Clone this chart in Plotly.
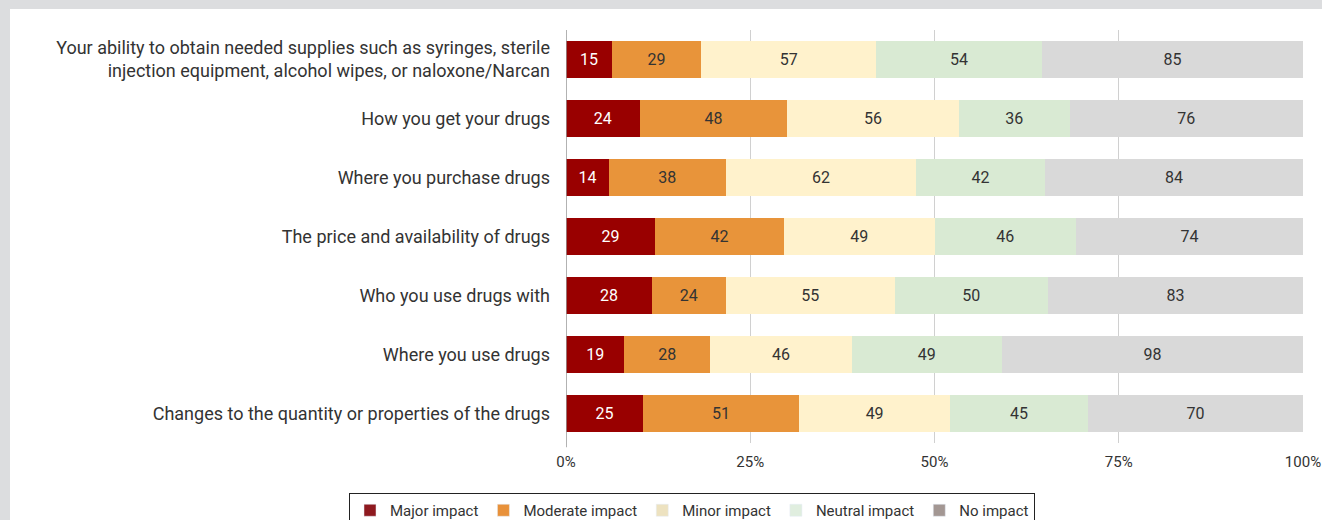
import plotly.graph_objects as go

categories = [
    "Your ability to obtain needed supplies such as syringes, sterile<br>injection equipment, alcohol wipes, or naloxone/Narcan",
    "How you get your drugs",
    "Where you purchase drugs",
    "The price and availability of drugs",
    "Who you use drugs with",
    "Where you use drugs",
    "Changes to the quantity or properties of the drugs",
]
series_names = ["Major impact", "Moderate impact", "Minor impact", "Neutral impact", "No impact"]
major = [15, 24, 14, 29, 28, 19, 25]
moderate = [29, 48, 38, 42, 24, 28, 51]
minor = [57, 56, 62, 49, 55, 46, 49]
neutral = [54, 36, 42, 46, 50, 49, 45]
no_impact = [85, 76, 84, 74, 83, 98, 70]
tick_vals = [0, 25, 50, 75, 100]
tick_text = ["0%", "25%", "50%", "75%", "100%"]

series_values = [major, moderate, minor, neutral, no_impact]
bar_colors = ["#990000", "#E8943A", "#FFF2CC", "#D9EAD3", "#D9D9D9"]
legend_colors = ["#8E1A1F", "#E8913A", "#EDE2C0", "#E0EEDF", "#A39793"]
text_colors = ["white", "#333333", "#333333", "#333333", "#333333"]

FONT = "Roboto"
fig = go.Figure()
for name, vals, col, tc in zip(series_names, series_values, bar_colors, text_colors):
    fig.add_trace(go.Bar(
        y=categories, x=vals, orientation="h", name=name,
        marker=dict(color=col, line=dict(width=0)),
        text=[str(v) for v in vals], textposition="inside", insidetextanchor="middle",
        textfont=dict(color=tc, size=16, family=FONT),
        showlegend=False, hoverinfo="skip",
    ))
for name, col in zip(series_names, legend_colors):
    fig.add_trace(go.Bar(
        y=[None], x=[None], orientation="h", name=name,
        marker=dict(color=col), showlegend=True,
    ))

W, H = 1322, 520
L, R, T, B = 566, 19, 30, 77
pw = W - L - R
ph = H - T - B
def px2x(px):
    return (px - L) / pw
def py2y(py):
    return (H - B - py) / ph

shapes = [
    dict(type="rect", xref="paper", yref="paper", x0=px2x(0), x1=px2x(10), y0=py2y(H), y1=py2y(0),
         fillcolor="#DCDDDF", line=dict(width=0), layer="below"),
    dict(type="rect", xref="paper", yref="paper", x0=px2x(0), x1=px2x(W), y0=py2y(9), y1=py2y(0),
         fillcolor="#DCDDDF", line=dict(width=0), layer="below"),
]

fig.update_layout(
    width=W, height=H,
    barmode="stack", barnorm="percent", bargap=0.36,
    margin=dict(l=L, r=R, t=T, b=B, pad=0, autoexpand=False),
    paper_bgcolor="white", plot_bgcolor="white",
    font=dict(family=FONT, color="#333333", size=18),
    shapes=shapes,
    xaxis=dict(range=[0, 100], tickvals=tick_vals, ticktext=tick_text, automargin=False,
               showgrid=True, gridcolor="#D0D0D0", gridwidth=1,
               zeroline=False, showline=False, ticks="", ticklabelstandoff=8,
               tickfont=dict(size=15, color="#333333", family=FONT)),
    yaxis=dict(autorange="reversed", showgrid=False, ticks="", automargin=False,
               showline=False, zeroline=False, ticklabelstandoff=15,
               tickfont=dict(size=18, color="#333333", family=FONT)),
    legend=dict(orientation="h", x=px2x(692), xanchor="center", y=py2y(493), yanchor="top",
                bordercolor="#222222", borderwidth=1, font=dict(size=15, family=FONT, color="#333333"),
                traceorder="normal", itemwidth=30),
)
fig.add_shape(type="line", xref="x", yref="paper", x0=0, x1=0, y0=-0.01, y1=1,
              line=dict(color="#999999", width=1.5))
fig.write_html("out.html", config={"displayModeBar": False},
               post_script="document.body.style.margin='0px';")
